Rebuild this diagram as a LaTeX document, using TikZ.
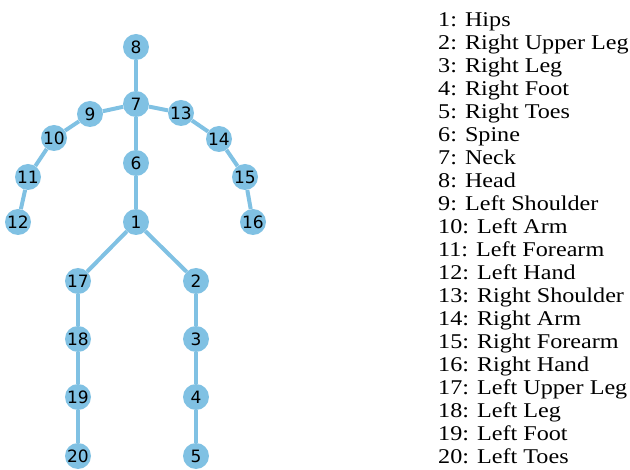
\documentclass[tikz,border=0pt]{standalone}
\usepackage{fontspec}
\setmainfont[FakeStretch=1.15]{Liberation Serif}
\newfontfamily\jointfont{DejaVu Sans}
\usepackage{xcolor}
\definecolor{jointblue}{RGB}{128,193,227}

\tikzset{
	joint/.style={circle, fill=jointblue, inner sep=0pt, minimum size=26pt, font=\jointfont\fontsize{17pt}{17pt}\selectfont},
	bone/.style={draw=jointblue, line width=4pt},
	legendtext/.style={anchor=base west, inner sep=0pt, font=\fontsize{21pt}{21pt}\selectfont}
}

\begin{document}
\begin{tikzpicture}[x=1pt, y=-1pt]
	\useasboundingbox (0,0) rectangle (630,470);
	
	% Nodes
	\node[joint] (j8) at (136,47) {8};
	\node[joint] (j7) at (136,104) {7};
	\node[joint] (j9) at (90,114) {9};
	\node[joint] (j13) at (181,113) {13};
	\node[joint] (j10) at (54,138) {10};
	\node[joint] (j14) at (219,139) {14};
	\node[joint] (j6) at (136,163) {6};
	\node[joint] (j11) at (28,177) {11};
	\node[joint] (j15) at (245,177) {15};
	\node[joint] (j12) at (18,222) {12};
	\node[joint] (j16) at (253,222) {16};
	\node[joint] (j1) at (136,222) {1};
	\node[joint] (j17) at (78,281) {17};
	\node[joint] (j2) at (196,281) {2};
	\node[joint] (j18) at (78,339) {18};
	\node[joint] (j3) at (196,339) {3};
	\node[joint] (j19) at (78,397) {19};
	\node[joint] (j4) at (196,397) {4};
	\node[joint] (j20) at (78,456) {20};
	\node[joint] (j5) at (196,456) {5};
	
	% Edges
	\draw[bone] (j8) -- (j7);
	\draw[bone] (j7) -- (j9);
	\draw[bone] (j9) -- (j10);
	\draw[bone] (j10) -- (j11);
	\draw[bone] (j11) -- (j12);
	\draw[bone] (j7) -- (j13);
	\draw[bone] (j13) -- (j14);
	\draw[bone] (j14) -- (j15);
	\draw[bone] (j15) -- (j16);
	\draw[bone] (j7) -- (j6);
	\draw[bone] (j6) -- (j1);
	\draw[bone] (j1) -- (j17);
	\draw[bone] (j17) -- (j18);
	\draw[bone] (j18) -- (j19);
	\draw[bone] (j19) -- (j20);
	\draw[bone] (j1) -- (j2);
	\draw[bone] (j2) -- (j3);
	\draw[bone] (j3) -- (j4);
	\draw[bone] (j4) -- (j5);
	
	% Legend
	\foreach \n/\name [count=\i from 0] in {1/Hips, 2/Right Upper Leg, 3/Right Leg, 4/Right Foot, 5/Right Toes, 6/Spine, 7/Neck, 8/Head, 9/Left Shoulder, 10/Left Arm, 11/Left Forearm, 12/Left Hand, 13/Right Shoulder, 14/Right Arm, 15/Right Forearm, 16/Right Hand, 17/Left Upper Leg, 18/Left Leg, 19/Left Foot, 20/Left Toes}
		\node[legendtext] (l\n) at (438,27+23*\i) {\n: \name};
	
\end{tikzpicture}
\end{document}
